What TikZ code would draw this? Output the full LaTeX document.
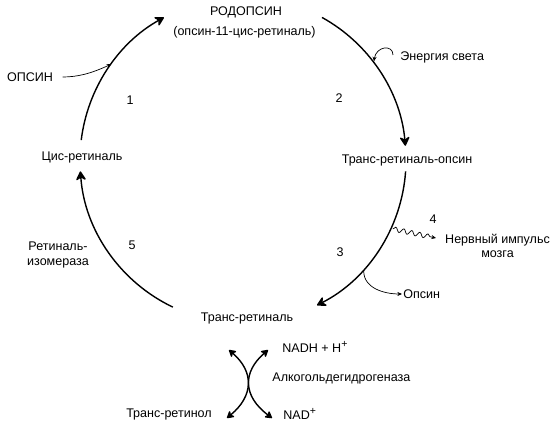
\documentclass[tikz,border=0pt]{standalone}
\usepackage{fontspec}
\setmainfont{Liberation Sans}
\usetikzlibrary{positioning, arrows.meta, calc, decorations.pathmorphing}

\begin{document}
\begin{tikzpicture}[x=0.03cm, y=0.03cm,
    every node/.style={font=\fontsize{10.7}{12.5}\selectfont, inner sep=1pt},
    cyclearr/.style={line width=1.2pt, -{Stealth[length=9pt, width=10pt, inset=3pt, round]}},
    sidearr/.style={line width=0.6pt, -{Stealth[length=4pt, width=3.5pt]}},
    crossarr/.style={line width=1.2pt, {Stealth[length=7pt, width=8pt, inset=2pt, round]}-{Stealth[length=7pt, width=8pt, inset=2pt, round]}}]
      \useasboundingbox (0,0) rectangle (554,429);

      % Cycle nodes
      \node (rhod) at (246,417) {РОДОПСИН};
      \node (rhodsub) at (244.5,397) {(опсин-11-цис-ретиналь)};
      \node (transop) at (407,269) {Транс-ретиналь-опсин};
      \node (transret) at (247,111) {Транс-ретиналь};
      \node (cisret) at (82,272) {Цис-ретиналь};

      % Side nodes
      \node (opsinL) at (30,352) {ОПСИН};
      \node[anchor=west] (light) at (399,372) {Энергия света};
      \node[align=center] (nerve) at (497.5,183) {Нервный импульс\\мозга};
      \node[anchor=west] (opsinR) at (402,135) {Опсин};
      \node[align=center] (isomer) at (58,174) {Ретиналь-\\изомераза};

      % Step numbers
      \node (n1) at (130,329) {1};
      \node (n2) at (339,331) {2};
      \node (n3) at (340,177) {3};
      \node (n4) at (433,210) {4};
      \node (n5) at (132,184) {5};

      % Reduction part
      \node[anchor=west] (nadh) at (281,82) {NADH + H\raisebox{4pt}{\fontsize{9}{9}\selectfont +}};
      \node[anchor=west] (adh) at (271,51) {Алкогольдегидрогеназа};
      \node[anchor=west] (nad) at (282,15) {NAD\raisebox{4pt}{\fontsize{9}{9}\selectfont +}};
      \node (retinol) at (169,15) {Транс-ретинол};

      % Points on the circle
      \coordinate (O) at (243,269);
      \coordinate (a1) at ($(O)+(173:163)$);
      \coordinate (a2) at ($(O)+(61:163)$);
      \coordinate (a3) at ($(O)+(-4:163)$);
      \coordinate (a4) at ($(O)+(244.5:163)$);
      \coordinate (opsinin) at ($(O)+(144:163)$);
      \coordinate (lightin) at ($(O)+(37:164)$);
      \coordinate (nerveout) at ($(O)+(-24.7:165)$);
      \coordinate (opsinout) at ($(O)+(-42.6:164)$);
      \coordinate (lightsrc) at (393,374);
      \coordinate (nervein) at (436,191);

      % Cycle arrows
      \draw[cyclearr] (a1) arc[start angle=173, end angle=119, radius=163];
      \draw[cyclearr] (a2) arc[start angle=61, end angle=5, radius=163];
      \draw[cyclearr] (a3) arc[start angle=-4, end angle=-63, radius=163];
      \draw[cyclearr] (a4) arc[start angle=244.5, end angle=184, radius=163];

      % Side arrows
      \draw[sidearr, shorten <=7pt] (opsinL.east) to[out=0, in=205] (opsinin);
      \draw[sidearr] (lightsrc) .. controls +(0,11) and +(2,15) .. (lightin);
      \draw[sidearr, decorate, decoration={snake, amplitude=2pt, segment length=7pt, post length=4pt}] (nerveout) -- (nervein);
      \draw[sidearr] (opsinout) to[out=-90, in=180] (opsinR.west);

      % Reversible reaction
      \coordinate (tl) at (229,79);
      \coordinate (tr) at (268,79);
      \coordinate (bl) at (227,11);
      \coordinate (br) at (272,11);
      \draw[crossarr] (tl) .. controls +(25.5,-22) and +(26.5,22) .. (bl);
      \draw[crossarr] (tr) .. controls +(-25.5,-22) and +(-29.5,22) .. (br);
\end{tikzpicture}
\end{document}
